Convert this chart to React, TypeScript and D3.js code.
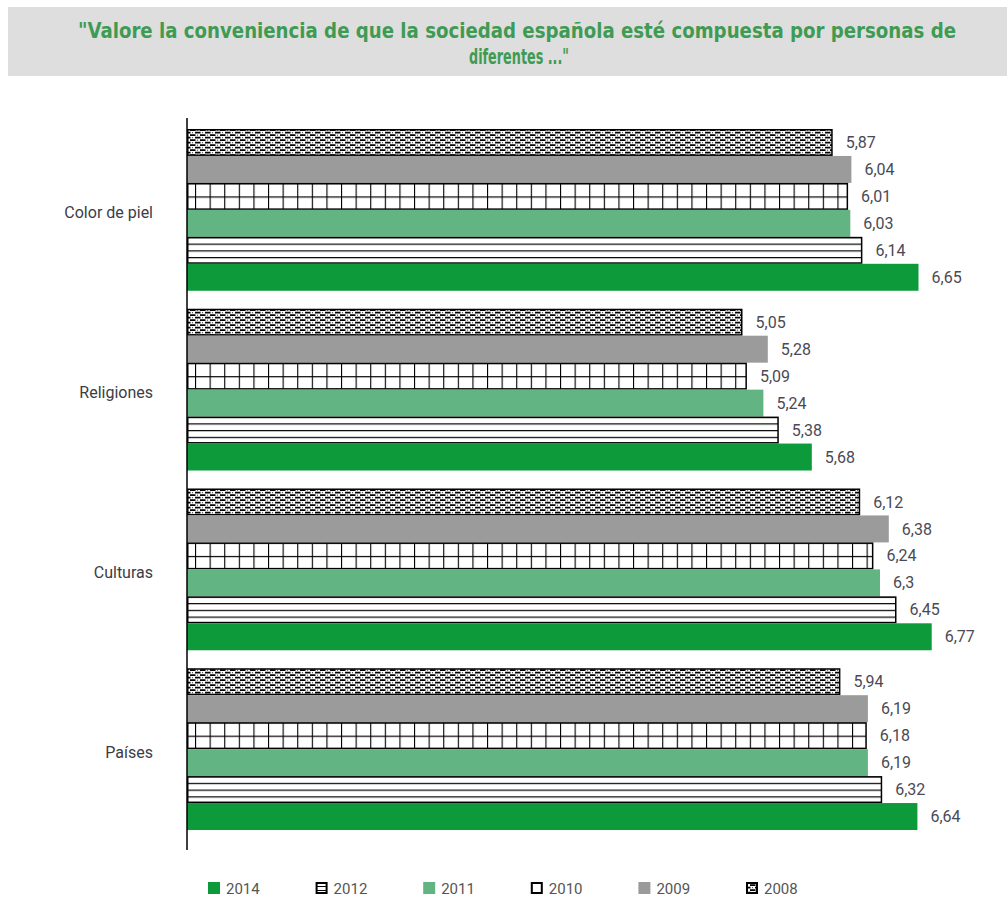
import React from 'react';
import * as d3 from 'd3';

const titleLines = [
  '"Valore la conveniencia de que la sociedad española esté compuesta por personas de',
  'diferentes ..."',
];
const categories = ['Color de piel', 'Religiones', 'Culturas', 'Países'];
const years = ['2008', '2009', '2010', '2011', '2012', '2014'];
const v2008 = [5.87, 5.05, 6.12, 5.94];
const v2009 = [6.04, 5.28, 6.38, 6.19];
const v2010 = [6.01, 5.09, 6.24, 6.18];
const v2011 = [6.03, 5.24, 6.3, 6.19];
const v2012 = [6.14, 5.38, 6.45, 6.32];
const v2014 = [6.65, 5.68, 6.77, 6.64];
const legendOrder = ['2014', '2012', '2011', '2010', '2009', '2008'];

const seriesValues: Record<string, number[]> = {
  '2008': v2008,
  '2009': v2009,
  '2010': v2010,
  '2011': v2011,
  '2012': v2012,
  '2014': v2014,
};

const solid: Record<string, string> = {
  '2009': '#9b9b9b',
  '2011': '#62b482',
  '2014': '#0c9a3b',
};
const bordered = new Set(['2008', '2010', '2012']);

const fmt = (v: number) => String(v).replace('.', ',');

export default function App() {
  const W = 1007;
  const H = 906;
  const x = d3.scaleLinear().domain([0, 7]).range([187, 957]);
  const y0 = d3
    .scaleBand<string>()
    .domain(categories)
    .range([120, 839])
    .paddingInner(0.1)
    .paddingOuter(0.05);
  const y1 = d3.scaleBand<string>().domain(years).range([0, y0.bandwidth()]);
  const bh = y1.bandwidth();
  const lx = d3.scalePoint<string>().domain(legendOrder).range([208, 746]);
  const legendY = 882;
  const sw = 12;

  const fillFor = (yr: string, ci: number | 'leg') => {
    if (solid[yr]) return solid[yr];
    if (yr === '2008') return 'url(#p2008)';
    return `url(#p${yr}-${ci})`;
  };

  const font = 'Roboto, "Open Sans", sans-serif';
  const titleFont = '"DejaVu Sans Condensed", "Liberation Sans Narrow", "DejaVu Sans", sans-serif';

  return (
    <div style={{ position: 'absolute', left: 0, top: 0 }}>
      <svg width={W} height={H} style={{ display: 'block', background: '#fff' }}>
        <defs>
          <pattern id="p2008" patternUnits="userSpaceOnUse" width={10} height={5} x={0} y={y0(categories[0])!}>
            <rect width={10} height={5} fill="#fff" />
            <path d="M0,1.2 H5.5 M5,3.7 H10.5 M-0.5,3.7 H0.5" stroke="#000" strokeWidth={1.8} />
            <circle cx={7.5} cy={1.2} r={0.6} fill="#444" />
            <circle cx={2.5} cy={3.7} r={0.6} fill="#444" />
          </pattern>
          {categories.map((c, ci) => {
            const yy10 = y0(c)! + y1('2010')!;
            const yy12 = y0(c)! + y1('2012')!;
            return (
              <g key={c}>
                <pattern id={`p2010-${ci}`} patternUnits="userSpaceOnUse" width={14.6} height={bh / 2} x={x(0) + 8} y={yy10}>
                  <rect width={14.6} height={bh / 2} fill="#fff" />
                  <line x1={0} x2={0} y1={0} y2={bh / 2} stroke="#000" strokeWidth={2.2} />
                  <line x1={0} x2={14.6} y1={0} y2={0} stroke="#000" strokeWidth={2.4} />
                </pattern>
                <pattern id={`p2012-${ci}`} patternUnits="userSpaceOnUse" width={20} height={bh / 4} x={0} y={yy12}>
                  <rect width={20} height={bh / 4} fill="#fff" />
                  <line x1={0} x2={20} y1={0} y2={0} stroke="#000" strokeWidth={2.4} />
                </pattern>
              </g>
            );
          })}
          <pattern id="p2012-leg" patternUnits="userSpaceOnUse" width={20} height={sw / 3} x={0} y={legendY}>
            <rect width={20} height={sw / 3} fill="#fff" />
            <line x1={0} x2={20} y1={0} y2={0} stroke="#000" strokeWidth={2} />
          </pattern>
          <pattern id="p2010-leg" patternUnits="userSpaceOnUse" width={20} height={20}>
            <rect width={20} height={20} fill="#fff" />
          </pattern>
        </defs>

        {/* Title box */}
        <rect x={8} y={7} width={W - 8} height={69} fill="#dedede" />
        <text
          x={517}
          y={38}
          textAnchor="middle"
          fill="#3f9b53"
          fontFamily={titleFont}
          fontStretch="condensed"
          fontWeight="bold"
          fontSize={21}
          textLength={878}
          lengthAdjust="spacingAndGlyphs"
        >
          {titleLines[0]}
        </text>
        <text
          x={519}
          y={64}
          textAnchor="middle"
          fill="#3f9b53"
          fontFamily={titleFont}
          fontStretch="condensed"
          fontWeight="bold"
          fontSize={21}
          textLength={100}
          lengthAdjust="spacingAndGlyphs"
        >
          {titleLines[1]}
        </text>

        {/* Bars */}
        {categories.map((c, ci) => (
          <g key={c}>
            {years.map((yr) => {
              const v = seriesValues[yr][ci];
              const by = y0(c)! + y1(yr)!;
              const bw = x(v) - x(0);
              const b = bordered.has(yr);
              return (
                <g key={yr}>
                  <rect
                    x={x(0) + (b ? 0.75 : 0)}
                    y={by + (b ? 0.75 : 0)}
                    width={bw - (b ? 1.5 : 0)}
                    height={bh - (b ? 1.5 : 0)}
                    fill={fillFor(yr, ci)}
                    stroke={b ? '#000' : 'none'}
                    strokeWidth={b ? 1.5 : 0}
                  />
                  <text
                    x={x(v) + 13}
                    y={by + bh / 2}
                    dy="0.35em"
                    fill="#4a4a55"
                    fontFamily={font}
                    fontSize={16}
                  >
                    {fmt(v)}
                  </text>
                </g>
              );
            })}
            <text
              x={153}
              y={y0(c)! + y0.bandwidth() / 2 + 3}
              dy="0.35em"
              textAnchor="end"
              fill="#3c3c46"
              fontFamily={font}
              fontSize={16}
            >
              {c}
            </text>
          </g>
        ))}

        {/* Axis */}
        <line x1={x(0)} x2={x(0)} y1={118} y2={850} stroke="#000" strokeWidth={1.5} />

        {/* Legend */}
        {legendOrder.map((yr) => {
          const lxx = lx(yr)!;
          const b = bordered.has(yr);
          return (
            <g key={yr}>
              <rect
                x={lxx + (b ? 1 : 0)}
                y={legendY + (b ? 1 : 0)}
                width={sw - (b ? 2 : 0)}
                height={sw - (b ? 2 : 0)}
                fill={yr === '2008' ? 'url(#p2008)' : fillFor(yr, 'leg')}
                stroke={b ? '#000' : 'none'}
                strokeWidth={b ? 2 : 0}
              />
              <text x={lxx + sw + 6} y={legendY + sw} fill="#555" fontFamily={font} fontSize={15}>
                {yr}
              </text>
            </g>
          );
        })}
      </svg>
    </div>
  );
}
